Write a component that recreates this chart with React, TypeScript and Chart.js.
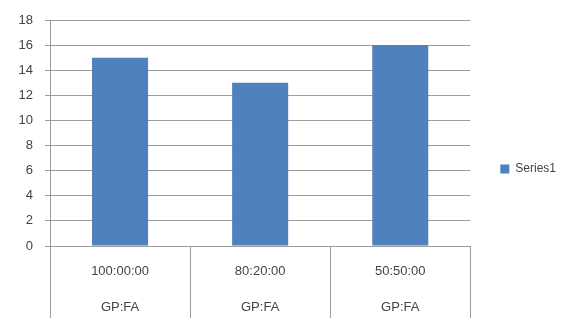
import React, { useEffect, useRef } from "react";
import { Chart, registerables } from "chart.js";

Chart.register(...registerables);

const categories: string[][] = [
  ["100:00:00", "GP:FA"],
  ["80:20:00", "GP:FA"],
  ["50:50:00", "GP:FA"],
];
const series1: number[] = [15, 13, 16];
const seriesName = "Series1";
const yMin = 0;
const yMax = 18;
const yStep = 2;

const GRID = "#9c9c9c";
const TEXT = "#444444";
const BAR = "#4f81bd";
const FONT = "'Liberation Sans', Arial, sans-serif";

const separatorPlugin = {
  id: "separators",
  afterDraw(chart: any) {
    const x = chart.scales.x;
    const ctx = chart.ctx;
    const n = chart.data.labels.length;
    const xs: number[] = [x.left];
    for (let i = 0; i < n - 1; i++) {
      xs.push((x.getPixelForTick(i) + x.getPixelForTick(i + 1)) / 2);
    }
    xs.push(x.right);
    ctx.save();
    ctx.strokeStyle = GRID;
    ctx.lineWidth = 1;
    ctx.beginPath();
    for (const px of xs) {
      const rx = Math.round(px) + 0.5;
      ctx.moveTo(rx, chart.chartArea.bottom);
      ctx.lineTo(rx, chart.height);
    }
    ctx.stroke();
    ctx.restore();
  },
};

export default function App() {
  const ref = useRef<HTMLCanvasElement>(null);
  useEffect(() => {
    if (!ref.current) return;
    const chart = new Chart(ref.current, {
      type: "bar",
      data: {
        labels: categories,
        datasets: [
          {
            label: seriesName,
            data: series1,
            backgroundColor: BAR,
            borderWidth: 0,
            barPercentage: 0.4,
            categoryPercentage: 1,
          },
        ],
      },
      options: {
        responsive: false,
        animation: false,
        layout: { padding: { top: 20, right: 0, bottom: 0, left: 0 } },
        plugins: {
          tooltip: { enabled: false },
          legend: {
            position: "right",
            labels: {
              boxWidth: 9,
              boxHeight: 9,
              padding: 30,
              color: TEXT,
              font: { family: FONT, size: 12 },
            },
          },
        },
        scales: {
          x: {
            grid: { display: false },
            border: { display: true, color: GRID, width: 1 },
            ticks: {
              color: TEXT,
              padding: -1,
              font: { family: FONT, size: 13, lineHeight: 2.77 },
              maxRotation: 0,
            },
            afterFit(scale: any) {
              scale.height = 72;
            },
          },
          y: {
            min: yMin,
            max: yMax,
            grid: { color: GRID, lineWidth: 1, tickLength: 5, drawTicks: true },
            border: { display: true, color: GRID, width: 1 },
            ticks: {
              stepSize: yStep,
              color: TEXT,
              padding: 12,
              font: { family: FONT, size: 13 },
            },
            afterFit(scale: any) {
              scale.width = 50;
            },
          },
        },
      },
      plugins: [separatorPlugin],
    });
    return () => chart.destroy();
  }, []);
  return (
    <div style={{ position: "absolute", left: 0, top: 0, width: 566, height: 318, background: "#fff" }}>
      <canvas ref={ref} width={566} height={318} style={{ display: "block" }} />
    </div>
  );
}
